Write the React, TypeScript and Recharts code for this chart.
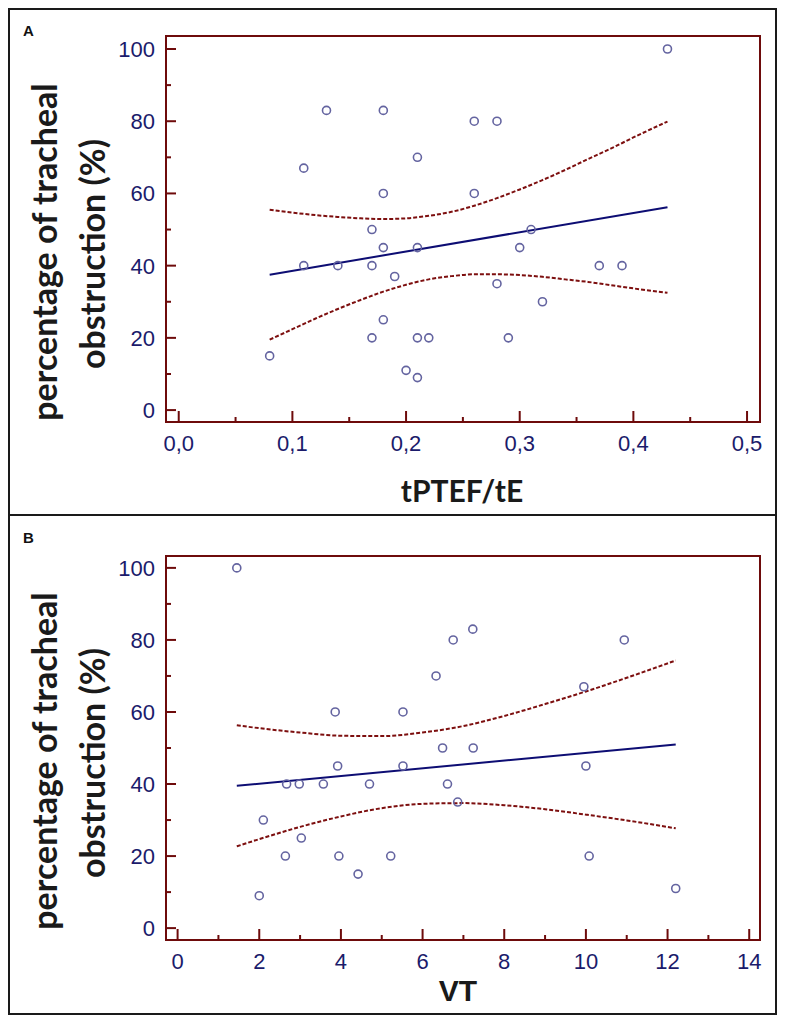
import React from "react";
import { ComposedChart, XAxis, YAxis, Scatter, Line, ReferenceArea } from "recharts";

// Panel A: tPTEF/tE vs tracheal obstruction
const tpteX = [0.43, 0.13, 0.18, 0.26, 0.28, 0.21, 0.11, 0.18, 0.26, 0.17, 0.31, 0.18, 0.21, 0.3, 0.11, 0.14, 0.17, 0.37, 0.39, 0.19, 0.28, 0.32, 0.18, 0.17, 0.21, 0.22, 0.29, 0.08, 0.2, 0.21];
const tpteY = [100, 83, 83, 80, 80, 70, 67, 60, 60, 50, 50, 45, 45, 45, 40, 40, 40, 40, 40, 37, 35, 30, 25, 20, 20, 20, 20, 15, 11, 9];
const tpteFitX = [0.08, 0.43];
const tpteFitY = [37.5, 56.2];
const tpteCiX = [0.08, 0.1, 0.12, 0.14, 0.16, 0.18, 0.2, 0.22, 0.24, 0.26, 0.28, 0.3, 0.32, 0.34, 0.36, 0.38, 0.4, 0.43];
const tpteCiUp = [55.5, 54.7, 54.0, 53.5, 53.1, 52.9, 53.1, 53.8, 54.9, 56.6, 58.7, 61.1, 63.7, 66.5, 69.5, 72.4, 75.5, 79.9];
const tpteCiLo = [19.5, 22.4, 25.3, 28.0, 30.5, 32.8, 34.7, 36.2, 37.1, 37.6, 37.6, 37.4, 36.9, 36.2, 35.5, 34.6, 33.7, 32.5];
const tpteTicks = [0, 0.05, 0.1, 0.15, 0.2, 0.25, 0.3, 0.35, 0.4, 0.45, 0.5];

// Panel B: VT vs tracheal obstruction
const vtX = [1.45, 7.23, 6.75, 10.94, 6.33, 9.95, 3.86, 5.52, 6.49, 7.24, 3.92, 5.52, 10.0, 2.67, 2.98, 3.57, 4.7, 6.61, 6.86, 2.1, 3.03, 2.64, 3.95, 5.22, 10.08, 4.42, 2.0, 12.2];
const vtY = [100, 83, 80, 80, 70, 67, 60, 60, 50, 50, 45, 45, 45, 40, 40, 40, 40, 40, 35, 30, 25, 20, 20, 20, 20, 15, 9, 11];
const vtFitX = [1.45, 12.2];
const vtFitY = [39.5, 51.0];
const vtCiX = [1.45, 2, 3, 4, 5, 6, 7, 8, 9, 10, 11, 12.2];
const vtCiUp = [56.3, 55.5, 54.3, 53.4, 53.3, 54.3, 56.1, 58.9, 62.2, 65.7, 69.5, 74.3];
const vtCiLo = [22.7, 24.7, 28.1, 31.0, 33.3, 34.5, 34.7, 34.1, 33.0, 31.5, 29.9, 27.7];
const vtTicks = [0, 1, 2, 3, 4, 5, 6, 7, 8, 9, 10, 11, 12, 13, 14];

const yTicks = [0, 10, 20, 30, 40, 50, 60, 70, 80, 90, 100];

const FRAME = "#6e0b0b";
const LABEL = "#1b1b6b";
const POINT = "#6464a0";
const FIT = "#0d0d73";
const CI = "#7d0f0f";

const tickFont = "'Liberation Sans', Arial, sans-serif";
const titleFont = "Lato, 'Open Sans', sans-serif";

function makeXTick(isMajor: (v: number) => boolean, fmt: (v: number) => string) {
  return (props: any) => {
    const { x, y, payload } = props;
    const major = isMajor(payload.value);
    return (
      <g>
        <line x1={x} y1={y} x2={x} y2={y - (major ? 11 : 5)} stroke={FRAME} strokeWidth={2} />
        {major && (
          <text x={x} y={y + 29} textAnchor="middle" fontSize={22} fontFamily={tickFont} fill={LABEL}>
            {fmt(payload.value)}
          </text>
        )}
      </g>
    );
  };
}

function YTick(props: any) {
  const { x, y, payload } = props;
  const major = payload.value % 20 === 0;
  return (
    <g>
      <line x1={x} y1={y} x2={x + (major ? 10 : 5)} y2={y} stroke={FRAME} strokeWidth={2} />
      {major && (
        <text x={x - 11} y={y + 8} textAnchor="end" fontSize={22} fontFamily={tickFont} fill={LABEL}>
          {payload.value}
        </text>
      )}
    </g>
  );
}

interface PanelProps {
  top: number;
  height: number;
  marginTop: number;
  marginBottom: number;
  xDomain: [number, number];
  yDomain: [number, number];
  ticks: number[];
  xTick: (p: any) => React.ReactElement;
  xs: number[];
  ys: number[];
  fitX: number[];
  fitY: number[];
  ciX: number[];
  ciUp: number[];
  ciLo: number[];
}

const AXIS_W = 60;
const AXIS_H = 40;

function Panel(p: PanelProps) {
  const points = p.xs.map((x, i) => ({ x, y: p.ys[i] }));
  const fit = p.fitX.map((x, i) => ({ x, y: p.fitY[i] }));
  const ci = p.ciX.map((x, i) => ({ x, up: p.ciUp[i], lo: p.ciLo[i] }));
  return (
    <div style={{ position: "absolute", left: 0, top: p.top }}>
      <ComposedChart
        width={769}
        height={p.height}
        margin={{ top: p.marginTop, right: 17, bottom: p.marginBottom - AXIS_H, left: 158 - AXIS_W }}
      >
        <XAxis
          dataKey="x"
          type="number"
          domain={p.xDomain}
          allowDataOverflow
          ticks={p.ticks}
          interval={0}
          height={AXIS_H}
          tickSize={0}
          tickMargin={0}
          tickLine={false}
          axisLine={false}
          tick={p.xTick}
        />
        <YAxis
          dataKey="y"
          type="number"
          domain={p.yDomain}
          allowDataOverflow
          ticks={yTicks}
          interval={0}
          width={AXIS_W}
          tickSize={0}
          tickMargin={0}
          tickLine={false}
          axisLine={false}
          tick={YTick}
        />
        <ReferenceArea
          x1={p.xDomain[0]}
          x2={p.xDomain[1]}
          y1={p.yDomain[0]}
          y2={p.yDomain[1]}
          fill="#ffffff"
          fillOpacity={0}
          stroke={FRAME}
          strokeWidth={2}
          ifOverflow="visible"
        />
        <Line data={ci} dataKey="up" type="monotone" stroke={CI} strokeWidth={2} strokeDasharray="4 2" dot={false} isAnimationActive={false} />
        <Line data={ci} dataKey="lo" type="monotone" stroke={CI} strokeWidth={2} strokeDasharray="4 2" dot={false} isAnimationActive={false} />
        <Line data={fit} dataKey="y" type="linear" stroke={FIT} strokeWidth={2} dot={false} isAnimationActive={false} />
        <Scatter
          data={points}
          isAnimationActive={false}
          shape={(s: any) => <circle cx={s.cx} cy={s.cy} r={4} fill="none" stroke={POINT} strokeWidth={1.6} />}
        />
      </ComposedChart>
    </div>
  );
}

function YTitle({ top }: { top: number }) {
  const line = (cx: number, cy: number, text: string) => (
    <div
      style={{
        position: "absolute",
        left: cx,
        top: cy,
        transform: "translate(-50%, -50%) rotate(-90deg)",
        whiteSpace: "nowrap",
        fontFamily: titleFont,
        fontWeight: 700,
        fontSize: 34,
        lineHeight: 1,
        color: "#1a1a1a",
      }}
    >
      {text}
    </div>
  );
  return (
    <>
      {line(36, top, "percentage of tracheal")}
      {line(84, top + 2, "obstruction (%)")}
    </>
  );
}

const letterStyle: React.CSSProperties = {
  position: "absolute",
  fontFamily: "Arial, 'Liberation Sans', sans-serif",
  fontWeight: 700,
  fontSize: 15,
  lineHeight: 1,
  color: "#111",
};

export default function App() {
  const fmtComma = (v: number) => v.toFixed(1).replace(".", ",");
  const tpteTick = makeXTick((v) => Math.abs(v * 10 - Math.round(v * 10)) < 1e-6, fmtComma);
  const vtTick = makeXTick((v) => v % 2 === 0, (v) => String(v));
  return (
    <div style={{ position: "relative", width: 769, height: 1007, background: "#fff" }}>
      <div
        style={{
          position: "absolute",
          left: 0,
          top: 0,
          width: 769,
          height: 1007,
          border: "2px solid #1a1a1a",
          boxSizing: "border-box",
        }}
      />
      <div style={{ position: "absolute", left: 0, top: 506, width: 769, height: 2, background: "#1a1a1a" }} />
      <div style={{ ...letterStyle, left: 15, top: 15 }}>A</div>
      <div style={{ ...letterStyle, left: 15, top: 522 }}>B</div>

      <Panel
        top={0}
        height={507}
        marginTop={28}
        marginBottom={93}
        xDomain={[-0.0112, 0.5114]}
        yDomain={[-3.3, 103.6]}
        ticks={tpteTicks}
        xTick={tpteTick}
        xs={tpteX}
        ys={tpteY}
        fitX={tpteFitX}
        fitY={tpteFitY}
        ciX={tpteCiX}
        ciUp={tpteCiUp}
        ciLo={tpteCiLo}
      />
      <Panel
        top={507}
        height={500}
        marginTop={41}
        marginBottom={75}
        xDomain={[-0.284, 14.264]}
        yDomain={[-3.3, 103.3]}
        ticks={vtTicks}
        xTick={vtTick}
        xs={vtX}
        ys={vtY}
        fitX={vtFitX}
        fitY={vtFitY}
        ciX={vtCiX}
        ciUp={vtCiUp}
        ciLo={vtCiLo}
      />

      <YTitle top={244} />
      <YTitle top={753} />

      <div
        style={{
          position: "absolute",
          left: 454,
          top: 482,
          transform: "translate(-50%, -50%)",
          fontFamily: titleFont,
          fontWeight: 700,
          fontSize: 30,
          lineHeight: 1,
          color: "#1a1a1a",
          whiteSpace: "nowrap",
        }}
      >
        tPTEF/tE
      </div>
      <div
        style={{
          position: "absolute",
          left: 450,
          top: 983,
          transform: "translate(-50%, -50%)",
          fontFamily: "Arial, 'Liberation Sans', sans-serif",
          fontWeight: 700,
          fontSize: 30,
          lineHeight: 1,
          color: "#1a1a1a",
        }}
      >
        VT
      </div>
    </div>
  );
}
